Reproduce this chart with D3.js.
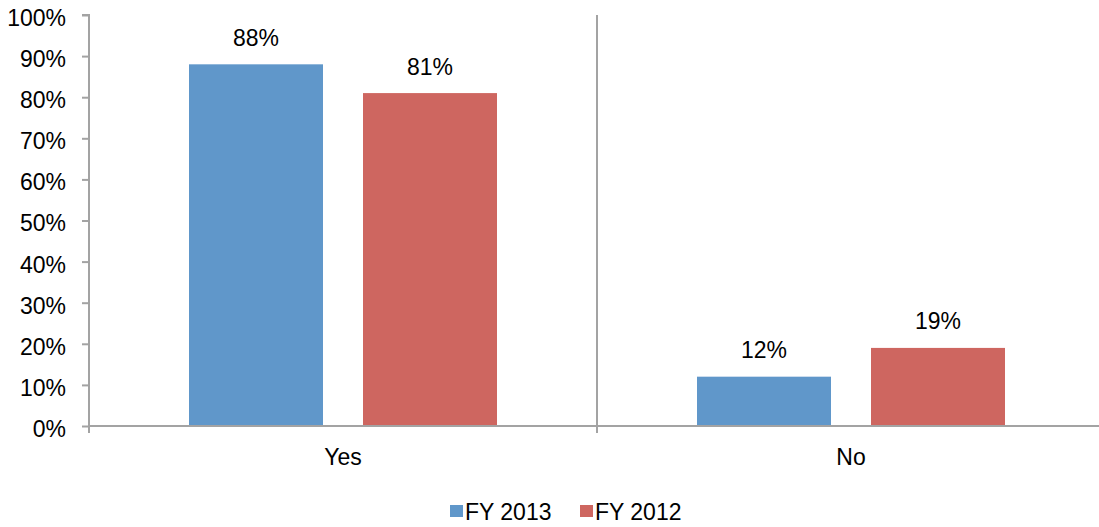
<!DOCTYPE html>
<html>
<head>
<meta charset="utf-8">
<script src="https://cdn.jsdelivr.net/npm/d3@7"></script>
<style>
  html, body { margin: 0; padding: 0; background: #fff; }
  svg { display: block; font-family: "Liberation Sans", Arial, sans-serif; }
</style>
</head>
<body>
<svg id="chart" width="1099" height="527"></svg>
<script>
// Survey answers by fiscal year
const categories = ["Yes", "No"];
const seriesNames = ["FY 2013", "FY 2012"];
const fy2013 = [0.88, 0.12];
const fy2012 = [0.81, 0.19];
const yTicks = [0, 0.1, 0.2, 0.3, 0.4, 0.5, 0.6, 0.7, 0.8, 0.9, 1.0];
const colors = ["#6097CA", "#CE6660"];

const svg = d3.select("#chart");
const axisColor = "#A3A3A3";
const fontSize = 23;
const textStretch = "scale(1,1.08)";

const plotLeft = 89, plotRight = 1105, plotTop = 15, plotBottom = 426;

const x0 = d3.scaleBand().domain(categories).range([plotLeft, plotRight]).padding(0);
const x1 = d3.scaleBand().domain(seriesNames).range([0, x0.bandwidth()])
  .paddingInner(40 / 174).paddingOuter(100 / 174);
const y = d3.scaleLinear().domain([0, 1]).range([plotBottom, plotTop]);

const rows = categories.map((c, i) => ({
  cat: c,
  vals: [
    { s: seriesNames[0], v: fy2013[i], color: colors[0] },
    { s: seriesNames[1], v: fy2012[i], color: colors[1] }
  ]
}));

// Bars
const groups = svg.append("g").selectAll("g").data(rows).join("g")
  .attr("transform", d => `translate(${x0(d.cat)},0)`);

groups.selectAll("rect").data(d => d.vals).join("rect")
  .attr("x", d => x1(d.s))
  .attr("y", d => y(d.v))
  .attr("width", x1.bandwidth())
  .attr("height", d => y(0) - y(d.v))
  .attr("fill", d => d.color);

// Value labels
groups.selectAll("text.val").data(d => d.vals).join("text")
  .attr("class", "val")
  .attr("transform", d => `translate(${x1(d.s) + x1.bandwidth() / 2},${y(d.v) - 18.5}) ${textStretch}`)
  .attr("text-anchor", "middle")
  .attr("font-size", fontSize)
  .attr("fill", "#000")
  .text(d => d3.format(".0%")(d.v));

// Y axis
const yAxis = d3.axisLeft(y).tickValues(yTicks).tickFormat(d3.format(".0%"))
  .tickSize(7).tickPadding(16);
const yg = svg.append("g").attr("transform", `translate(${plotLeft},0)`).call(yAxis);
yg.select(".domain").attr("stroke", axisColor).attr("stroke-width", 2)
  .attr("d", `M-7,${plotTop}H0V${plotBottom}`);
yg.selectAll(".tick line").attr("stroke", axisColor).attr("stroke-width", 2);
yg.selectAll(".tick text").attr("font-size", fontSize).attr("fill", "#000")
  .attr("font-family", "Liberation Sans, Arial, sans-serif")
  .attr("dy", "0.42em")
  .attr("transform", textStretch);

// X axis with category boundary ticks
const xg = svg.append("g");
xg.append("line")
  .attr("x1", plotLeft).attr("x2", plotRight).attr("y1", plotBottom).attr("y2", plotBottom)
  .attr("stroke", axisColor).attr("stroke-width", 2);
const boundaries = categories.map(c => x0(c)).concat([plotRight]);
xg.selectAll("line.b").data(boundaries).join("line")
  .attr("class", "b")
  .attr("x1", d => d).attr("x2", d => d)
  .attr("y1", plotBottom).attr("y2", plotBottom + 7)
  .attr("stroke", axisColor).attr("stroke-width", 2);

// Divider between categories
xg.selectAll("line.div").data(categories.slice(1)).join("line")
  .attr("class", "div")
  .attr("x1", d => x0(d)).attr("x2", d => x0(d))
  .attr("y1", plotTop).attr("y2", plotBottom)
  .attr("stroke", axisColor).attr("stroke-width", 2);

xg.selectAll("text").data(categories).join("text")
  .attr("transform", d => `translate(${x0(d) + x0.bandwidth() / 2},465) ${textStretch}`)
  .attr("text-anchor", "middle")
  .attr("font-size", fontSize)
  .attr("fill", "#000")
  .text(d => d);

// Legend
const legendX = [450, 580];
const legend = svg.append("g").selectAll("g").data(seriesNames).join("g")
  .attr("transform", (d, i) => `translate(${legendX[i]},505)`);
legend.append("rect").attr("width", 13).attr("height", 12)
  .attr("fill", (d, i) => colors[i]);
legend.append("text")
  .attr("transform", `translate(15,14.5) ${textStretch}`)
  .attr("font-size", fontSize).attr("fill", "#000").text(d => d);
</script>
</body>
</html>
